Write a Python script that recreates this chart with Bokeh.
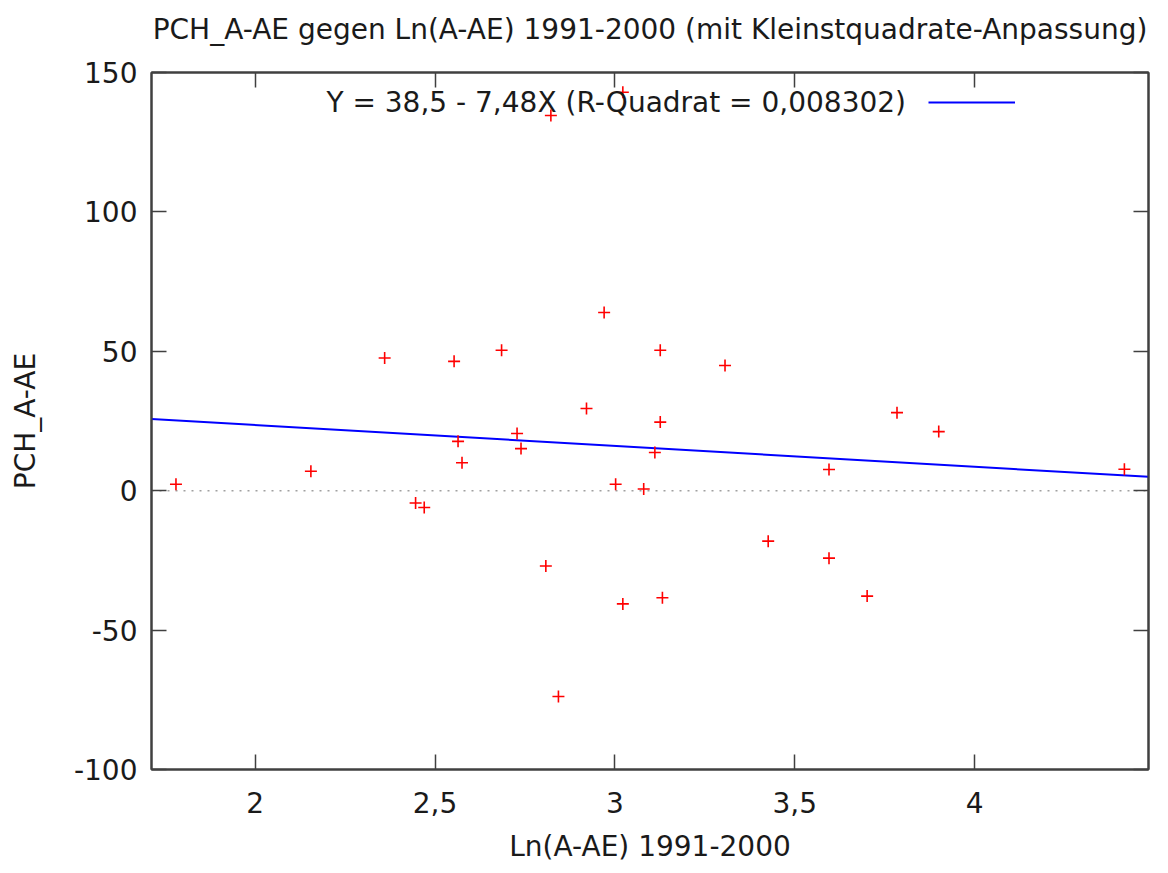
from bokeh.plotting import figure
from bokeh.models import (Range1d, LinearAxis, FixedTicker, Span, Label, Legend,
                          LegendItem, CustomJSTickFormatter)
from bokeh.embed import file_html
from bokeh.resources import INLINE

# ---- data ----
x_vals = [1.780, 2.155, 2.360, 2.446, 2.470, 2.553, 2.564, 2.575, 2.685, 2.728,
          2.739, 2.808, 2.822, 2.843, 2.921, 2.970, 3.002, 3.022, 3.022, 3.080,
          3.111, 3.126, 3.126, 3.132, 3.306, 3.426, 3.595, 3.595, 3.701, 3.784,
          3.900, 4.416]
y_vals = [2.3, 7.0, 47.6, -4.4, -6.0, 46.4, 17.7, 10.0, 50.4, 20.5,
          15.1, -27.0, 134.6, -73.8, 29.5, 63.9, 2.3, 142.9, -40.6, 0.6,
          13.7, 50.4, 24.6, -38.4, 44.9, -18.1, 7.6, -24.2, -37.8, 28.0,
          21.2, 7.7]
fit_intercept = 38.5
fit_slope = -7.48
x_ticks = [2, 2.5, 3, 3.5, 4]
y_ticks = [-100, -50, 0, 50, 100, 150]
x_limits = [1.712, 4.483]
y_limits = [-100, 150]
title_text = "PCH_A-AE gegen Ln(A-AE) 1991-2000 (mit Kleinstquadrate-Anpassung)"
legend_text = "Y = 38,5 - 7,48X (R-Quadrat = 0,008302)"
x_label = "Ln(A-AE) 1991-2000"
y_label = "PCH_A-AE"

FONT = "DejaVu Sans"
TXT = "#1a1a1a"
AX = "#404040"

p = figure(width=1160, height=865, output_backend="svg", toolbar_location=None,
           x_range=Range1d(*x_limits), y_range=Range1d(*y_limits),
           min_border_left=151, min_border_right=12, min_border_top=72,
           min_border_bottom=95)
p.grid.visible = False
p.outline_line_color = AX
p.outline_line_width = 2

p.title.text = title_text
p.title.align = "center"
p.title.text_font = FONT
p.title.text_font_size = "28px"
p.title.text_font_style = "normal"
p.title.text_color = TXT
p.title.standoff = 18

fmt = CustomJSTickFormatter(code="return tick.toString().replace('.', ',');")
blank_fmt = CustomJSTickFormatter(code="return '';")


def style_axis(ax, ticks, show_labels):
    ax.ticker = FixedTicker(ticks=ticks)
    ax.formatter = fmt if show_labels else blank_fmt
    ax.axis_line_color = AX
    ax.axis_line_width = 2
    ax.major_tick_line_color = AX
    ax.major_tick_line_width = 1.5
    ax.major_tick_in = 15
    ax.major_tick_out = 0
    ax.minor_tick_line_color = None
    ax.major_label_text_font = FONT
    ax.major_label_text_font_size = "28px"
    ax.major_label_text_color = TXT
    ax.axis_label_text_font = FONT
    ax.axis_label_text_font_size = "28px"
    ax.axis_label_text_font_style = "normal"
    ax.axis_label_text_color = TXT
    if not show_labels:
        ax.major_label_standoff = 0


xa = p.xaxis[0]
ya = p.yaxis[0]
style_axis(xa, x_ticks, True)
style_axis(ya, y_ticks, True)
xa.axis_label = x_label
ya.axis_label = y_label
xa.major_label_standoff = 22
ya.major_label_standoff = 14
xa.axis_label_standoff = 14
ya.axis_label_standoff = 29

# mirrored ticks on top and right
top_ax = LinearAxis()
style_axis(top_ax, x_ticks, False)
right_ax = LinearAxis()
style_axis(right_ax, y_ticks, False)
p.add_layout(top_ax, "above")
p.add_layout(right_ax, "right")

# invisible spacer axis that lifts the title away from the frame
spacer = LinearAxis(ticker=FixedTicker(ticks=x_ticks), formatter=blank_fmt)
spacer.axis_line_color = None
spacer.major_tick_line_color = None
spacer.minor_tick_line_color = None
spacer.major_tick_in = 0
spacer.major_tick_out = 18
spacer.major_label_standoff = 0
p.add_layout(spacer, "above")

zero = Span(location=0, dimension="width", line_color="#a0a0a0",
            line_dash="2 6", line_width=1.5, level="underlay")
p.add_layout(zero)

fit_x = list(x_limits)
fit_y = [fit_intercept + fit_slope * v for v in fit_x]
fit_r = p.line(fit_x, fit_y, line_color="#0000ff", line_width=2)

p.scatter(x_vals, y_vals, marker="cross", size=12, line_color="#ff0000",
          line_width=1.6)

lab = Label(x=3.809, y=139.2, text=legend_text, text_align="right",
            text_baseline="middle", text_font=FONT, text_font_size="28px",
            text_color=TXT)
p.add_layout(lab)

leg = Legend(items=[LegendItem(label=" ", renderers=[fit_r])],
             location=(777, 657), glyph_width=87, glyph_height=20,
             padding=0, margin=0, spacing=0, border_line_color=None,
             background_fill_alpha=0, label_text_font_size="20px",
             label_standoff=0, label_width=1, label_height=1)
p.add_layout(leg, "center")

open("out.html", "w").write(file_html(p, INLINE))
